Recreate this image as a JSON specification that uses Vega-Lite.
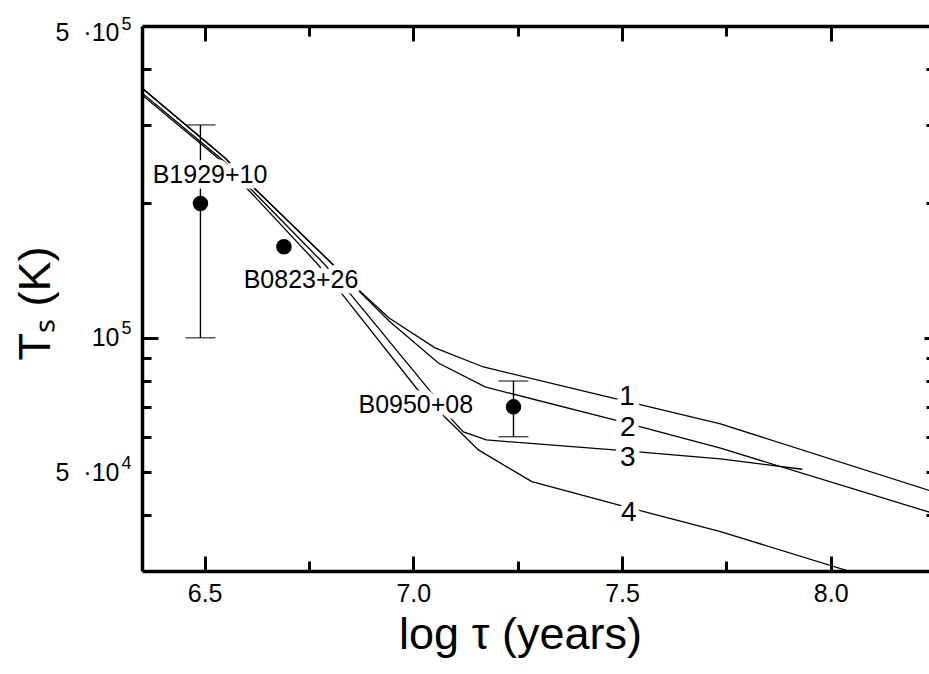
{
  "$schema": "https://vega.github.io/schema/vega-lite/v6.json",
  "width": 787,
  "height": 545,
  "autosize": {"type": "none"},
  "padding": {"left": 142, "top": 26, "right": 0, "bottom": 103},
  "background": "white",
  "config": {
    "view": {"stroke": null},
    "font": "Liberation Sans",
    "axis": {
      "grid": false,
      "domain": false,
      "labels": false,
      "ticks": true,
      "tickColor": "black",
      "tickWidth": 3,
      "domainColor": "black",
      "domainWidth": 3.5,
      "labelFont": "Liberation Sans",
      "labelFontSize": 24,
      "labelColor": "black",
      "labelOverlap": false,
      "labelFlush": false,
      "titleFont": "Liberation Sans",
      "titleFontSize": 36,
      "titleFontWeight": "normal",
      "titleColor": "black"
    }
  },
  "datasets": {
    "curves": [
      {"curve": "1", "x": 6.35, "T": 363000},
      {"curve": "1", "x": 6.549, "T": 253000},
      {"curve": "1", "x": 6.621, "T": 215600},
      {"curve": "1", "x": 6.801, "T": 147900},
      {"curve": "1", "x": 6.877, "T": 126000},
      {"curve": "1", "x": 6.942, "T": 110750},
      {"curve": "1", "x": 7.052, "T": 94900},
      {"curve": "1", "x": 7.168, "T": 86000},
      {"curve": "1", "x": 7.496, "T": 72550},
      {"curve": "1", "x": 7.736, "T": 64100},
      {"curve": "1", "x": 8.237, "T": 45430},
      {"curve": "1", "x": 8.3, "T": 43500},
      {"curve": "2", "x": 6.35, "T": 363000},
      {"curve": "2", "x": 6.549, "T": 253000},
      {"curve": "2", "x": 6.621, "T": 215600},
      {"curve": "2", "x": 6.801, "T": 147900},
      {"curve": "2", "x": 6.877, "T": 125400},
      {"curve": "2", "x": 6.942, "T": 109050},
      {"curve": "2", "x": 7.06, "T": 87800},
      {"curve": "2", "x": 7.172, "T": 77580},
      {"curve": "2", "x": 7.491, "T": 65100},
      {"curve": "2", "x": 7.736, "T": 56540},
      {"curve": "2", "x": 8.237, "T": 40630},
      {"curve": "2", "x": 8.3, "T": 38970},
      {"curve": "3", "x": 6.35, "T": 353800},
      {"curve": "3", "x": 6.549, "T": 247900},
      {"curve": "3", "x": 6.613, "T": 214500},
      {"curve": "3", "x": 6.785, "T": 146900},
      {"curve": "3", "x": 6.849, "T": 125400},
      {"curve": "3", "x": 7.036, "T": 76780},
      {"curve": "3", "x": 7.093, "T": 65430},
      {"curve": "3", "x": 7.12, "T": 61500},
      {"curve": "3", "x": 7.175, "T": 59010},
      {"curve": "3", "x": 7.496, "T": 55900},
      {"curve": "3", "x": 7.736, "T": 53500},
      {"curve": "3", "x": 7.932, "T": 50730},
      {"curve": "4", "x": 6.35, "T": 350200},
      {"curve": "4", "x": 6.549, "T": 245300},
      {"curve": "4", "x": 6.605, "T": 214500},
      {"curve": "4", "x": 6.769, "T": 146900},
      {"curve": "4", "x": 6.829, "T": 125400},
      {"curve": "4", "x": 7.009, "T": 76780},
      {"curve": "4", "x": 7.081, "T": 65670},
      {"curve": "4", "x": 7.156, "T": 56050},
      {"curve": "4", "x": 7.284, "T": 47590},
      {"curve": "4", "x": 7.491, "T": 42200},
      {"curve": "4", "x": 7.736, "T": 36770},
      {"curve": "4", "x": 8.039, "T": 30070},
      {"curve": "4", "x": 8.3, "T": 25270}
    ],
    "pulsars": [
      {"name": "B1929+10", "x": 6.49, "T": 200000, "Tlo": 100000, "Thi": 300000},
      {"name": "B0823+26", "x": 6.69, "T": 160000, "Tlo": null, "Thi": null},
      {"name": "B0950+08", "x": 7.24, "T": 70000, "Tlo": 60000, "Thi": 80000}
    ],
    "labels": [
      {"text": "B1929+10", "kind": "pulsar", "x": 6.513, "T": 231700},
      {"text": "B0823+26", "kind": "pulsar", "x": 6.731, "T": 134800},
      {"text": "B0950+08", "kind": "pulsar", "x": 7.006, "T": 70600},
      {"text": "1", "kind": "curve", "x": 7.512, "T": 73800},
      {"text": "2", "kind": "curve", "x": 7.514, "T": 62690},
      {"text": "3", "kind": "curve", "x": 7.514, "T": 53700},
      {"text": "4", "kind": "curve", "x": 7.516, "T": 40420}
    ]
  },
  "resolve": {"axis": {"x": "independent", "y": "independent"}},
  "layer": [
    {
      "data": {"name": "curves"},
      "mark": {"type": "line", "clip": true, "color": "black", "strokeWidth": 1.3},
      "encoding": {
        "x": {
          "field": "x", "type": "quantitative",
          "scale": {"domain": [6.35, 8.2355], "zero": false, "nice": false},
          "axis": {
            "orient": "bottom", "values": [6.5, 7, 7.5, 8], "ticks": false, "labels": true,
            "labelExpr": "format(datum.value, '.1f')", "labelPadding": 10, "labelFontSize": 25, "domain": true,
            "title": "log τ (years)", "titleX": 378, "titleY": 77, "titleBaseline": "alphabetic", "titleFontSize": 45
          }
        },
        "y": {
          "field": "T", "type": "quantitative",
          "scale": {"type": "log", "domain": [30000, 500000], "nice": false},
          "axis": {
            "orient": "left", "values": [50000, 100000, 500000], "ticks": false, "labels": true,
            "labelExpr": "datum.value == 100000 ? '10' : '5\u00a0 ·10'",
            "labelPadding": 23, "labelFontSize": 25, "domain": true,
            "labelOffset": {"condition": {"test": "datum.value == 500000", "value": 6}, "value": 0},
            "title": "Tₛ (K)", "titleX": -93, "titleY": 277, "titleBaseline": "alphabetic", "titleFontSize": 45
          }
        },
        "detail": {"field": "curve", "type": "nominal"}
      }
    },
    {
      "data": {"name": "pulsars"},
      "transform": [{"filter": "datum.Tlo != null"}],
      "mark": {"type": "rule", "color": "black", "strokeWidth": 1.4},
      "encoding": {
        "x": {
          "field": "x", "type": "quantitative",
          "scale": {"domain": [6.35, 8.2355], "zero": false, "nice": false},
          "axis": {"orient": "bottom", "values": [6.5, 7, 7.5, 8], "tickSize": -15, "title": null}
        },
        "y": {
          "field": "Tlo", "type": "quantitative",
          "scale": {"type": "log", "domain": [30000, 500000], "nice": false},
          "axis": {"orient": "left", "values": [100000], "tickSize": -16, "title": null}
        },
        "y2": {"field": "Thi"}
      }
    },
    {
      "data": {"name": "pulsars"},
      "transform": [
        {"filter": "datum.Tlo != null"},
        {"fold": ["Tlo", "Thi"], "as": ["end", "Tcap"]}
      ],
      "mark": {"type": "tick", "orient": "horizontal", "color": "black", "size": 30, "thickness": 1.4},
      "encoding": {
        "x": {
          "field": "x", "type": "quantitative",
          "scale": {"domain": [6.35, 8.2355], "zero": false, "nice": false},
          "axis": {"orient": "bottom", "values": [6.75, 7.25, 7.75], "tickSize": -10, "title": null}
        },
        "y": {
          "field": "Tcap", "type": "quantitative",
          "scale": {"type": "log", "domain": [30000, 500000], "nice": false},
          "axis": {"orient": "left", "values": [40000, 50000, 60000, 70000, 80000, 90000, 200000, 300000, 400000], "tickSize": -9, "title": null}
        }
      }
    },
    {
      "data": {"name": "labels"},
      "mark": {"type": "text", "fill": "white", "stroke": "white", "strokeWidth": 11, "strokeJoin": "round", "baseline": "middle", "align": "center", "font": "Liberation Sans"},
      "encoding": {
        "x": {
          "field": "x", "type": "quantitative",
          "scale": {"domain": [6.35, 8.2355], "zero": false, "nice": false},
          "axis": {"orient": "top", "values": [6.5, 7, 7.5, 8], "tickSize": -15, "domain": true, "title": null}
        },
        "y": {
          "field": "T", "type": "quantitative",
          "scale": {"type": "log", "domain": [30000, 500000], "nice": false},
          "axis": {"orient": "right", "values": [100000], "tickSize": -5, "title": null}
        },
        "text": {"field": "text"},
        "size": {"field": "kind", "type": "nominal", "scale": {"domain": ["pulsar", "curve"], "range": [25, 28]}, "legend": null}
      }
    },
    {
      "data": {"name": "labels"},
      "mark": {"type": "text", "color": "black", "baseline": "middle", "align": "center", "font": "Liberation Sans"},
      "encoding": {
        "x": {
          "field": "x", "type": "quantitative",
          "scale": {"domain": [6.35, 8.2355], "zero": false, "nice": false},
          "axis": {"orient": "top", "values": [6.75, 7.25, 7.75], "tickSize": -10, "title": null}
        },
        "y": {
          "field": "T", "type": "quantitative",
          "scale": {"type": "log", "domain": [30000, 500000], "nice": false},
          "axis": {"orient": "right", "values": [40000, 50000, 60000, 70000, 80000, 90000, 200000, 300000, 400000], "tickSize": -3, "title": null}
        },
        "text": {"field": "text"},
        "size": {"field": "kind", "type": "nominal", "scale": {"domain": ["pulsar", "curve"], "range": [25, 28]}, "legend": null}
      }
    },
    {
      "data": {"name": "pulsars"},
      "mark": {"type": "circle", "color": "black", "opacity": 1, "size": 240},
      "encoding": {
        "x": {
          "field": "x", "type": "quantitative",
          "scale": {"domain": [6.35, 8.2355], "zero": false, "nice": false},
          "axis": null
        },
        "y": {
          "field": "T", "type": "quantitative",
          "scale": {"type": "log", "domain": [30000, 500000], "nice": false},
          "axis": {
            "orient": "left", "values": [50000, 100000, 500000], "ticks": false, "labels": true,
            "labelExpr": "datum.value == 50000 ? '4' : '5'",
            "labelPadding": 11, "labelFontSize": 18,
            "labelOffset": {"condition": {"test": "datum.value == 500000", "value": -2}, "value": -9},
            "title": null
          }
        }
      }
    }
  ]
}
